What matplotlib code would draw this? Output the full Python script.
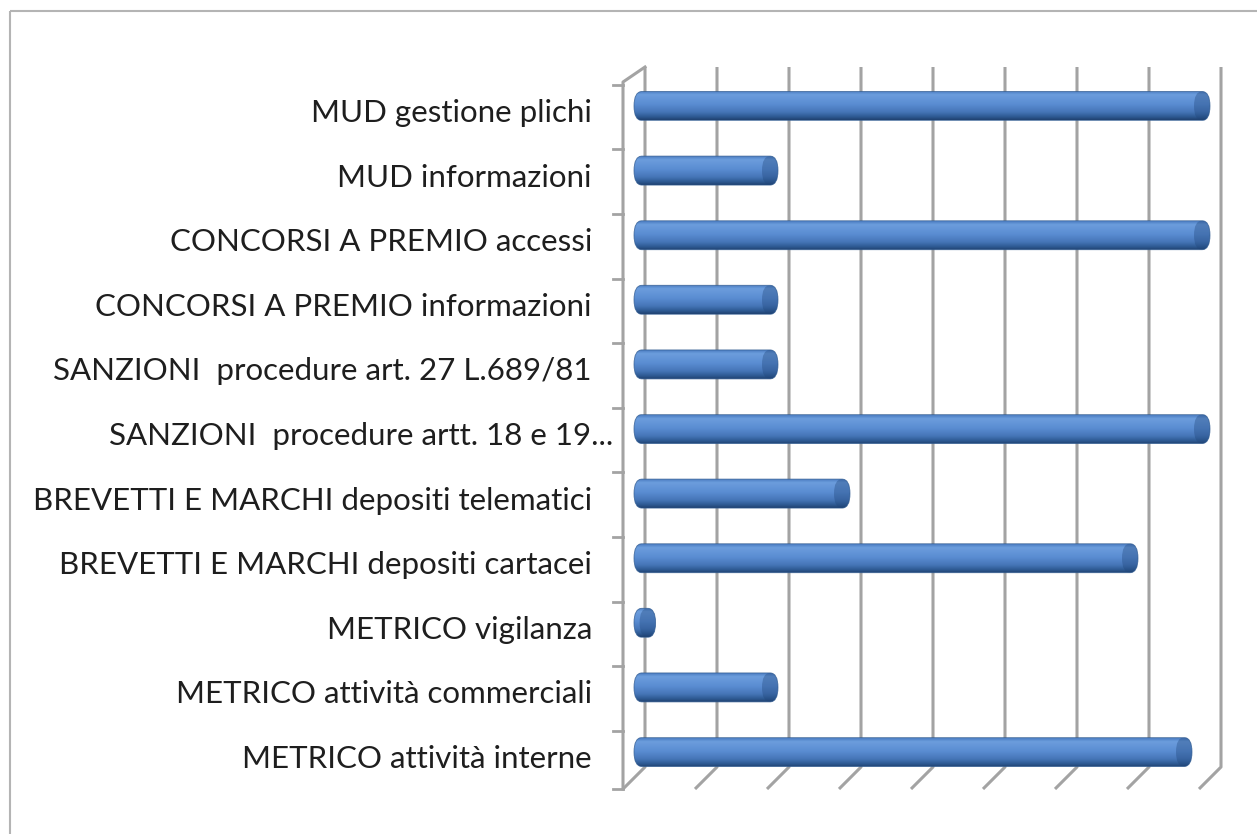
"""3D-style horizontal bar chart (Excel cylinder look) of office activities."""
import matplotlib.pyplot as plt
import numpy as np
from matplotlib.colors import LinearSegmentedColormap
from matplotlib.patches import FancyBboxPatch, Rectangle

# data (bottom -> top)
categories = [
    "METRICO attività interne",
    "METRICO attività commerciali",
    "METRICO vigilanza",
    "BREVETTI E MARCHI depositi cartacei",
    "BREVETTI E MARCHI depositi telematici",
    "SANZIONI  procedure artt. 18 e 19...",
    "SANZIONI  procedure art. 27 L.689/81",
    "CONCORSI A PREMIO informazioni",
    "CONCORSI A PREMIO accessi",
    "MUD informazioni",
    "MUD gestione plichi",
]
values = [7.75, 2, 0.3, 7, 3, 8, 2, 2, 8, 2, 8]
grid_ticks = np.arange(0, 9)

# layout: one value unit = 72 px, one category = 64.6 px
PX_X, PX_Y = 72.0, 64.6
X0, Y0 = 634.0, 752.0  # pixel position of value 0 / first category centre
W, H = 1257, 834


def vx(px):
    return (px - X0) / PX_X


def cy(py):
    return (Y0 - py) / PX_Y


depth = 11.0 / PX_X  # half-depth offset in value units
grid_col = "#a3a3a3"

fig = plt.figure(figsize=(W / 100, H / 100), dpi=100)
ax = fig.add_axes([0, 0, 1, 1])
ax.set_xlim(vx(0), vx(W))
ax.set_ylim(cy(H), cy(0))
ax.axis("off")

# outer frame
ax.add_patch(Rectangle((10 / W, 1 - 11 / H), 1.2, -1.2, transform=ax.transAxes,
                       fill=False, ec="#b4b4b4", lw=1.5))

# back wall gridlines + floor diagonals
back_top, back_floor = cy(67), cy(767)
front_top, front_floor = cy(82), cy(789)
for k in grid_ticks:
    xb = k + depth
    xf = k - depth
    ax.plot([xb, xb, xf], [back_top, back_floor, front_floor],
            color=grid_col, lw=2.2, solid_capstyle="butt", zorder=1)

# left wall front edge with ticks
xl = -depth
ax.plot([depth, xl, xl], [back_top, front_top, front_floor], color=grid_col,
        lw=2.2, zorder=1)
tick_len = 10 / PX_X
for b in np.arange(-0.5, len(categories) + 0.5, 1.0):
    yb = front_floor if b == -0.5 else b - 11 / PX_Y
    ax.plot([xl - tick_len, xl], [yb, yb], color=grid_col, lw=2, zorder=1)

# bars
bar_h = 29 / PX_Y
bars = ax.barh(range(len(categories)), values, height=bar_h, color="none",
               edgecolor="none")
cmap = LinearSegmentedColormap.from_list(
    "cyl",
    [(0.0, "#4a7cc0"), (0.12, "#6c9ddd"), (0.45, "#5a8dd2"),
     (0.72, "#4676b8"), (0.88, "#2f5b94"), (1.0, "#1f416f")])
grad = np.linspace(0, 1, 256).reshape(-1, 1)
rx = 8 / PX_X
for rect in bars:
    x, y = rect.get_x(), rect.get_y()
    w, h = rect.get_width(), rect.get_height()
    r = min(rx, w / 2)
    aspect = (h / 2) / r
    box = FancyBboxPatch((x, y), w, h, boxstyle=f"round,pad=0,rounding_size={r}",
                         mutation_aspect=aspect, fc="none", ec="#2f5a90",
                         lw=0.6, alpha=0.8, zorder=4)
    ax.add_patch(box)
    im = ax.imshow(grad, cmap=cmap, extent=(x, x + w, y, y + h), origin="upper",
                   aspect="auto", zorder=3, interpolation="bilinear")
    im.set_clip_path(box)
    # darker end cap
    cap = FancyBboxPatch((x + w - 2 * r, y), 2 * r, h,
                         boxstyle=f"round,pad=0,rounding_size={r}",
                         mutation_aspect=aspect, fc="#1f4478", ec="none",
                         alpha=0.35, zorder=3.5)
    ax.add_patch(cap)
    cap.set_clip_path(box)

# category labels (sit slightly below the bar centre, as in the source)
label_shift = 7 / PX_Y
for i, lab in enumerate(categories):
    xpos = vx(613) if lab.endswith("...") else vx(592)
    ax.text(xpos, i - label_shift, lab, ha="right", va="center", fontsize=22.5,
            family=["Lato", "DejaVu Sans"], color="#1e1e1e")

fig.savefig("out.png", dpi=100)
